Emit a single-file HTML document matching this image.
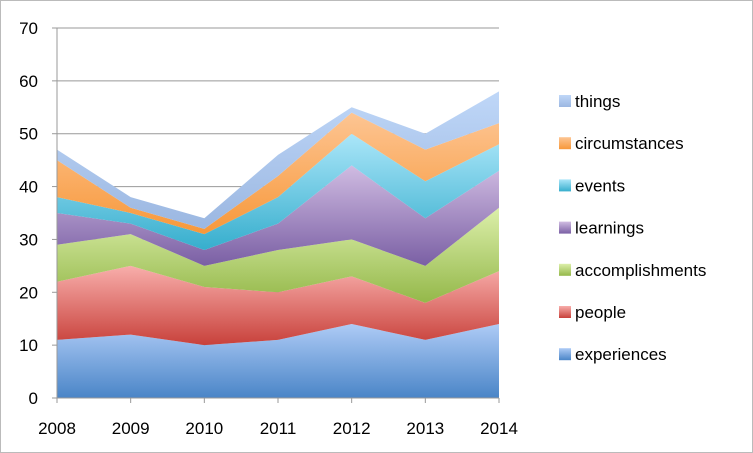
<!DOCTYPE html>
<html><head><meta charset="utf-8"><style>
body{margin:0;background:#fff}
svg{display:block;font-family:"Liberation Sans",sans-serif}
</style></head><body>
<svg id="chart" width="753" height="453">
<rect x="0.5" y="0.5" width="752" height="452" fill="#fff" stroke="#bbb"/>
<defs id="defs"></defs>
<g id="grid"></g><g id="areas"></g><g id="axes"></g><g id="legend"></g>
</svg>
<script>
const years=["2008","2009","2010","2011","2012","2013","2014"];
const seriesNames=["experiences","people","accomplishments","learnings","events","circumstances","things"];
const experiences=[11,12,10,11,14,11,14];
const people=[11,13,11,9,9,7,10];
const accomplishments=[7,6,4,8,7,7,12];
const learnings=[6,2,3,5,14,9,7];
const events=[3,2,3,5,6,7,5];
const circumstances=[7,1,1,4,4,6,4];
const things=[2,2,2,4,1,3,6];
const yTicks=[0,10,20,30,40,50,60,70];
const series=[experiences,people,accomplishments,learnings,events,circumstances,things];
const colors=[["#aecbf6","#4a85c7"],["#f8aeab","#c8413b"],["#dcefaa","#94b84a"],["#d0bce2","#7a5fa4"],["#abe6f9","#36aecd"],["#fdc593","#f7983a"],["#bfd7f8","#9bb7e1"]];
const NS="http://www.w3.org/2000/svg";
const x0=57,x1=499,yB=398,yT=28;
const xs=i=>x0+(x1-x0)*i/(years.length-1);
const ys=v=>yB-(yB-yT)*v/70;
function mk(t,a,p){const e=document.createElementNS(NS,t);for(const k in a)e.setAttribute(k,a[k]);p.appendChild(e);return e;}
const grid=document.getElementById('grid'),areas=document.getElementById('areas'),axes=document.getElementById('axes'),legend=document.getElementById('legend'),defs=document.getElementById('defs');
yTicks.forEach(t=>{
 if(t>0){const g=mk('line',{x1:x0,x2:x1,y1:ys(t),y2:ys(t),stroke:'#999','stroke-width':1},grid);
 
 }
 const tk=mk('line',{x1:x0-5,x2:x0,y1:ys(t),y2:ys(t),stroke:'#999'},axes);
 
 
 const l=mk('text',{x:38,y:ys(t)+6,'text-anchor':'end','font-size':17,fill:'#000'},axes);l.textContent=t;
 
 
});
let base=years.map(()=>0);
series.forEach((s,si)=>{
 const gr=mk('linearGradient',{id:'g'+si,x1:0,y1:0,x2:0,y2:1},defs);
 mk('stop',{offset:0,'stop-color':colors[si][0]},gr);mk('stop',{offset:1,'stop-color':colors[si][1]},gr);
 const top=base.map((b,i)=>b+s[i]);
 let d=top.map((v,i)=>(i?'L':'M')+xs(i)+','+ys(v)).join('');
 for(let i=years.length-1;i>=0;i--)d+='L'+xs(i)+','+ys(base[i]);
 const p=mk('path',{d:d+'Z',fill:'url(#g'+si+')'},areas);
 
 
 base=top;
});
const ax=mk('line',{x1:x0,x2:x0,y1:yT,y2:yB,stroke:'#999'},axes);


const bx=mk('line',{x1:x0,x2:x1,y1:yB,y2:yB,stroke:'#999'},axes);


years.forEach((y,i)=>{
 const tk=mk('line',{x1:xs(i),x2:xs(i),y1:yB,y2:yB+5,stroke:'#999'},axes);
 
 
 const l=mk('text',{x:xs(i),y:434,'text-anchor':'middle','font-size':17,fill:'#000'},axes);l.textContent=y;
 
 
});
for(let k=0;k<seriesNames.length;k++){
 const si=seriesNames.length-1-k;const cy=101+k*42.2;
 const r=mk('rect',{x:559,y:cy-6,width:12,height:12,fill:'url(#g'+si+')'},legend);
 
 
 const t=mk('text',{x:575,y:cy+6,'font-size':17,fill:'#000'},legend);t.textContent=seriesNames[si];
 
 
}
</script>
</body></html>
